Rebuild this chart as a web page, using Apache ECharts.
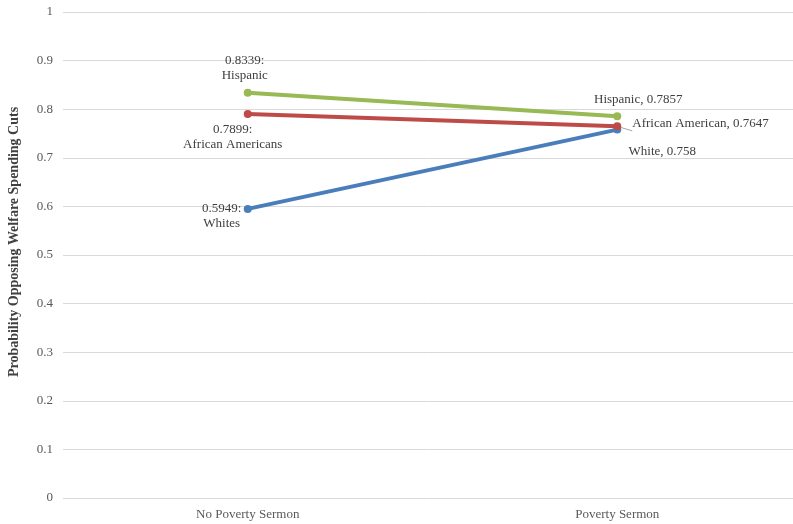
<!DOCTYPE html>
<html>
<head>
<meta charset="utf-8">
<script src="https://cdn.jsdelivr.net/npm/echarts@6/dist/echarts.min.js"></script>
<style>
  html, body { margin: 0; padding: 0; background: #fff; }
  #chart { width: 793px; height: 524px; }
</style>
</head>
<body>
<div id="chart"></div>
<script>
const categories = ['No Poverty Sermon', 'Poverty Sermon']

const whites = [0.5949, 0.758]
const africanAmericans = [0.7899, 0.7647]
const hispanics = [0.8339, 0.7857]

const whiteLabels = ['0.5949:\nWhites', 'White, 0.758']
const africanLabels = ['0.7899:\nAfrican Americans', 'African American, 0.7647']
const hispanicLabels = ['0.8339:\nHispanic', 'Hispanic, 0.7857']

const colorList = ['#4a7ebb', '#be4b48', '#98b954']

const labelFont = {
  fontFamily: 'Liberation Serif',
  fontSize: 13,
  color: '#404040',
  lineHeight: 15
}

// label placement per point, plus whether to draw a leader line
const withLabels = (values, texts, labelOpts, leader) =>
  values.map((value, index) => ({
    value,
    label: {
      show: true,
      ...labelFont,
      ...labelOpts[index],
      formatter: texts[index]
    },
    labelLine: {
      show: !!(leader && leader[index]),
      lineStyle: { color: '#a6a6a6', width: 1 }
    }
  }))

const chart = echarts.init(document.getElementById('chart'))

const makeSeries = (name, values, texts, labelOpts, color, leader) => ({
  name,
  type: 'line',
  data: withLabels(values, texts, labelOpts, leader),
  symbol: 'circle',
  symbolSize: 8,
  lineStyle: { width: 4, color },
  itemStyle: { color },
  animation: false
})

const option = {
  grid: { left: 63, right: -9, top: 12, bottom: 26, outerBoundsMode: 'none', containLabel: false },
  xAxis: {
    type: 'category',
    data: categories,
    axisLine: { show: false },
    axisTick: { show: false },
    axisLabel: {
      fontFamily: 'Liberation Serif',
      fontSize: 13,
      color: '#595959',
      margin: 10
    }
  },
  yAxis: {
    type: 'value',
    min: 0,
    max: 1,
    interval: 0.1,
    name: 'Probability Opposing Welfare Spending Cuts',
    nameLocation: 'middle',
    nameGap: 42,
    nameTextStyle: {
      fontFamily: 'Liberation Serif',
      fontSize: 14,
      fontWeight: 'bold',
      color: '#404040',
      padding: [0, 0, 0, 26]
    },
    axisLabel: {
      fontFamily: 'Liberation Serif',
      fontSize: 13,
      color: '#595959',
      margin: 10
    },
    splitLine: { lineStyle: { color: '#d9d9d9', width: 1 } }
  },
  series: [
    makeSeries('Whites', whites, whiteLabels, [
      { position: 'top', distance: 5, offset: [-26, 31], align: 'center' },
      { position: 'bottom', distance: 5, offset: [45, 5] }
    ], colorList[0]),
    makeSeries('African Americans', africanAmericans, africanLabels, [
      { position: 'bottom', distance: 4, offset: [-15, 0] },
      { position: 'right', distance: 11, offset: [0, -3] }
    ], colorList[1], [false, true]),
    makeSeries('Hispanic', hispanics, hispanicLabels, [
      { position: 'top', distance: 6, offset: [-3, 0] },
      { position: 'top', distance: 5, offset: [21, 0] }
    ], colorList[2])
  ]
}

chart.setOption(option)
</script>
</body>
</html>
